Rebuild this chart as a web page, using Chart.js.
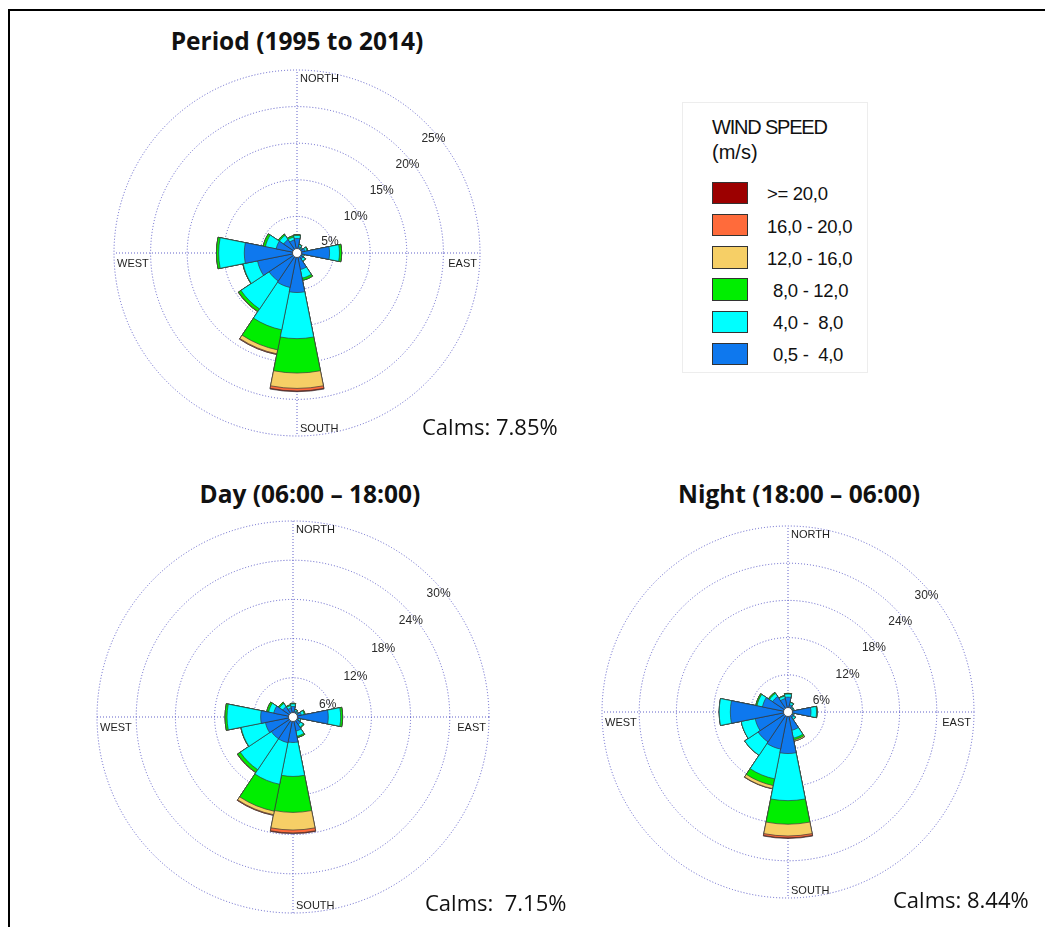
<!DOCTYPE html>
<html><head><meta charset="utf-8">
<script src="https://cdn.jsdelivr.net/npm/chart.js@4.4.1/dist/chart.umd.min.js"></script>
<style>
html,body{margin:0;padding:0;background:#fff;}
body{width:1045px;height:927px;position:relative;overflow:hidden;}
.frame{position:absolute;left:8px;top:9px;width:1100px;height:1000px;border-left:2px solid #000;border-top:2px solid #000;}
canvas{position:absolute;}
.t{position:absolute;white-space:pre;color:#111;}
.legend{position:absolute;left:682px;top:102px;width:186px;height:271px;border:1px solid #ededed;box-sizing:border-box;}
.sw{position:absolute;box-sizing:border-box;border:1px solid #333;}
</style></head><body>
<div class="frame"></div>
<div class="legend"></div>
<canvas id="c1" width="380" height="380" style="left:107px;top:63px"></canvas>
<canvas id="c2" width="406" height="406" style="left:90px;top:514px"></canvas>
<canvas id="c3" width="386" height="386" style="left:595px;top:519px"></canvas>
<script>
// ---- data ----
const directions = ['N','NNE','NE','ENE','E','ESE','SE','SSE','S','SSW','SW','WSW','W','WNW','NW','NNW'];
const cardinalLabels = ['NORTH','EAST','SOUTH','WEST'];
const speedClasses = ['0,5 -  4,0','4,0 -  8,0','8,0 - 12,0','12,0 - 16,0','16,0 - 20,0','>= 20,0'];
const legendTitle = ['WIND SPEED','(m/s)'];
const titles = ['Period (1995 to 2014)','Day (06:00 \u2013 18:00)','Night (18:00 \u2013 06:00)'];
const calmsLabels = ['Calms: 7.85%','Calms:  7.15%','Calms: 8.44%'];
const ticksPeriod = ['5%','10%','15%','20%','25%'];
const ticksDayNight = ['6%','12%','18%','24%','30%'];

// Period (1995-2014), % frequency per direction and speed class
const period_05_4  = [2.0,0.9,0.7,1.1,4.45,0.8,1.0,2.3,5.4,4.8,4.6,5.5,7.2,2.9,2.2,1.8];
const period_4_8   = [0.4,0.25,0.2,0.3,1.35,0.2,0.35,1.2,6.3,5.9,4.6,2.0,3.5,1.5,0.7,0.4];
const period_8_12  = [0.1,0.05,0,0.1,0.3,0,0.05,0.3,4.7,2.8,0.4,0.05,0.3,0.3,0.2,0.2];
const period_12_16 = [0,0,0,0,0,0,0,0,2.1,0.55,0.05,0,0,0,0,0];
const period_16_20 = [0,0,0,0,0,0,0,0,0.35,0.1,0,0,0,0,0,0];
const period_20    = [0,0,0,0,0,0,0,0,0.1,0,0,0,0,0,0,0];

// Day (06:00-18:00)
const day_05_4  = [1.6,0.9,0.75,1.3,5.4,0.9,1.4,2.2,3.9,4.0,4.0,4.3,4.95,3.0,1.9,1.4];
const day_4_8   = [0.4,0.25,0.25,0.45,1.9,0.3,0.5,0.8,5.2,6.5,5.7,3.8,5.15,0.8,0.6,0.35];
const day_8_12  = [0.1,0.05,0,0.15,0.3,0,0.1,0.2,5.5,4.2,0.5,0.05,0.3,0.3,0.2,0.15];
const day_12_16 = [0,0,0,0,0,0,0,0,2.7,0.55,0.05,0,0,0,0,0];
const day_16_20 = [0,0,0,0,0,0,0,0,0.45,0.1,0,0,0,0,0,0];
const day_20    = [0,0,0,0,0,0,0,0,0.1,0,0,0,0,0,0,0];

// Night (18:00-06:00)
const night_05_4  = [2.4,1.2,0.8,0.8,3.7,0.8,1.1,3.0,6.7,6.1,5.8,5.4,9.3,4.2,3.0,2.2];
const night_4_8   = [0.5,0.35,0.2,0.2,0.9,0.2,0.35,1.3,7.6,4.9,2.6,2.3,1.8,0.9,0.6,0.4];
const night_8_12  = [0.1,0.05,0,0,0.1,0,0.05,0.3,3.8,1.1,0,0,0,0.2,0.2,0.1];
const night_12_16 = [0,0,0,0,0,0,0,0.2,1.9,0.5,0,0,0,0,0,0];
const night_16_20 = [0,0,0,0,0,0,0,0,0.3,0.05,0,0,0,0,0,0];
const night_20    = [0,0,0,0,0,0,0,0,0.1,0,0,0,0,0,0,0];

// ---- style ----
const speedColors = ['#0e78ee','#00ffff','#00ee00','#f6cf66','#ff6b3b','#9c0000'];
const GRID = 'rgba(80,80,195,0.9)';
const LAB_FONT = '"Liberation Sans", Arial, sans-serif';
const OS_FONT = '"Open Sans", sans-serif';

// ---- text helpers ----
function place(text, x, baseline, fs, family, weight, align, ls) {
  const d = document.createElement('div');
  d.className = 't';
  d.textContent = text;
  const k = family === OS_FONT ? 0.888 : 0.8465;
  d.style.fontFamily = family;
  d.style.fontSize = fs + 'px';
  d.style.lineHeight = fs + 'px';
  d.style.fontWeight = weight || 'normal';
  if (ls) d.style.letterSpacing = ls + 'px';
  d.style.top = (baseline - k * fs) + 'px';
  if (align === 'center') { d.style.left = (x - 400) + 'px'; d.style.width = '800px'; d.style.textAlign = 'center'; }
  else d.style.left = x + 'px';
  document.body.appendChild(d);
}

place(titles[0], 297, 50.5, 24.5, OS_FONT, 'bold', 'center');
place(titles[1], 310, 504, 24.5, OS_FONT, 'bold', 'center');
place(titles[2], 799, 504, 24.5, OS_FONT, 'bold', 'center');
place(calmsLabels[0], 422, 435, 22, OS_FONT);
place(calmsLabels[1], 425, 911, 22, OS_FONT);
place(calmsLabels[2], 893, 908, 22, OS_FONT);

// legend
place(legendTitle[0], 712, 134.3, 20, LAB_FONT, 'normal', null, -1.2);
place(legendTitle[1], 712, 159, 20, LAB_FONT);
for (let k = 0; k < 6; k++) {
  const idx = 5 - k;
  const sw = document.createElement('div');
  sw.className = 'sw';
  sw.style.left = '712px'; sw.style.top = (181.7 + 32.2 * k) + 'px';
  sw.style.width = '36px'; sw.style.height = '22.6px';
  sw.style.background = speedColors[idx];
  document.body.appendChild(sw);
  place(speedClasses[idx], k < 3 ? 767 : 773, 201 + 32.2 * k, 18.5, LAB_FONT, 'normal', null, -0.3);
}

// ---- chart plugin: centre hole, tick labels, compass labels ----
const roseDecor = {
  id: 'roseDecor',
  afterDatasetsDraw(chart, args, opts) {
    const ctx = chart.ctx;
    const r = chart.scales.r, c = chart.scales.rc;
    ctx.save();
    ctx.beginPath();
    ctx.arc(r.xCenter, r.yCenter, opts.hole, 0, Math.PI * 2);
    ctx.fillStyle = '#fff'; ctx.fill();
    ctx.lineWidth = 0.8; ctx.strokeStyle = '#333'; ctx.stroke();

    ctx.font = '12px ' + LAB_FONT;
    ctx.fillStyle = '#2a2a2a'; ctx.textAlign = 'center'; ctx.textBaseline = 'middle';
    const a = Math.PI / 4;
    r.ticks.forEach(t => {
      if (t.value <= 0 || !t.label) return;
      const dist = r.getDistanceFromCenterForValue(t.value);
      ctx.fillText(t.label, r.xCenter + dist * Math.sin(a) + 7, r.yCenter - dist * Math.cos(a) + 15);
    });

    const R = c.drawingArea, cx = c.xCenter, cy = c.yCenter;
    const labs = c.getLabels();
    ctx.font = '11px ' + LAB_FONT; ctx.fillStyle = '#1e1e1e';
    ctx.textAlign = 'left'; ctx.textBaseline = 'top';
    ctx.fillText(labs[0], cx + 3, cy - R + 3);
    ctx.textAlign = 'right';
    ctx.fillText(labs[1], cx + R - 3, cy + 5);
    ctx.textAlign = 'left'; ctx.textBaseline = 'bottom';
    ctx.fillText(labs[2], cx + 3, cy + R - 2);
    ctx.textBaseline = 'top';
    ctx.fillText(labs[3], cx - R + 3, cy + 5);
    ctx.restore();
  }
};

function makeRose(id, bins, maxV, step, tickLabels) {
  // cumulative stacks: dataset 0 (lightest wind) drawn on top
  const datasets = [];
  let run = directions.map(() => 0);
  bins.forEach((b, k) => {
    run = run.map((v, i) => v + b[i]);
    datasets.push({
      label: speedClasses[k],
      data: run.slice(),
      backgroundColor: speedColors[k],
      borderColor: 'rgba(55,55,55,0.85)',
      borderWidth: 0.8
    });
  });
  return new Chart(document.getElementById(id), {
    type: 'polarArea',
    data: { labels: directions, datasets },
    options: {
      responsive: false, animation: false, devicePixelRatio: 1,
      layout: { padding: 7 },
      plugins: { legend: { display: false }, tooltip: { enabled: false }, roseDecor: { hole: 4.5 } },
      scales: {
        r: {
          type: 'radialLinear', min: 0, max: maxV, startAngle: -11.25, beginAtZero: true,
          ticks: { display: false, stepSize: step, callback: (v, i) => tickLabels[i - 1] || '' },
          grid: { display: true, circular: true, color: GRID, lineWidth: 1 },
          border: { dash: [1, 2] },
          angleLines: { display: false },
          pointLabels: { display: false }
        },
        rc: {
          type: 'radialLinear', axis: 'r', labels: cardinalLabels, min: 0, max: maxV, startAngle: 0,
          ticks: { display: false, stepSize: step },
          grid: { display: false },
          angleLines: { display: true, color: GRID, lineWidth: 1, borderDash: [1, 2] },
          pointLabels: { display: false }
        }
      }
    },
    plugins: [roseDecor]
  });
}

makeRose('c1', [period_05_4, period_4_8, period_8_12, period_12_16, period_16_20, period_20], 25, 5, ticksPeriod);
makeRose('c2', [day_05_4, day_4_8, day_8_12, day_12_16, day_16_20, day_20], 30, 6, ticksDayNight);
makeRose('c3', [night_05_4, night_4_8, night_8_12, night_12_16, night_16_20, night_20], 30, 6, ticksDayNight);
</script>
</body></html>
